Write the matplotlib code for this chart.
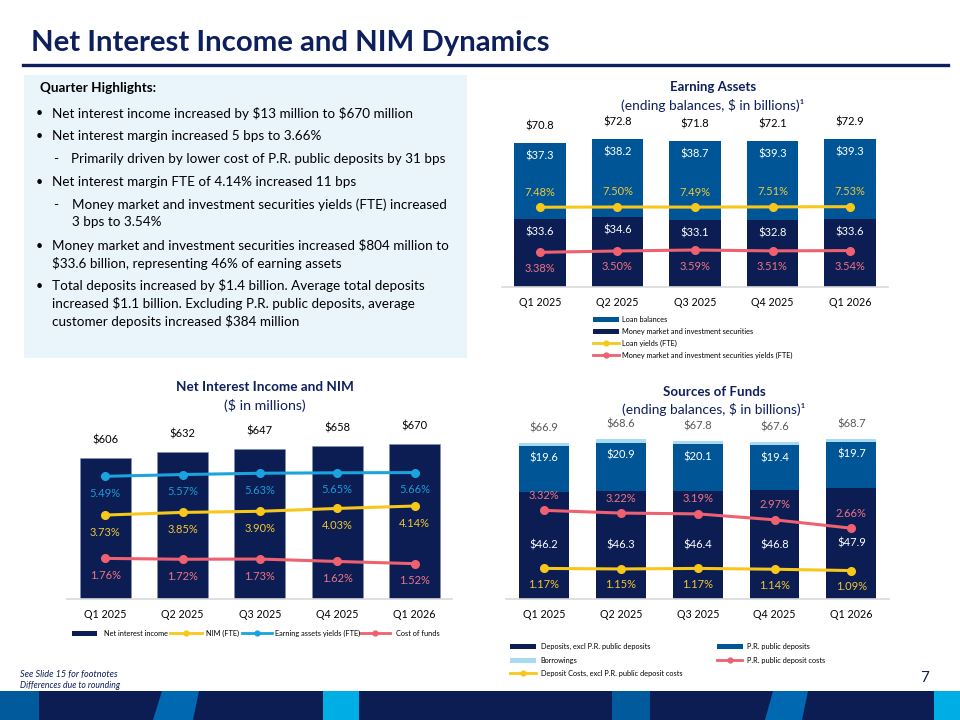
import matplotlib
matplotlib.use('Agg')
import matplotlib.pyplot as plt
from matplotlib.patches import Rectangle, Polygon
from matplotlib.lines import Line2D
import matplotlib.transforms as mtrans

plt.rcParams['font.family'] = ['Lato', 'DejaVu Sans']

# ---------------- data ----------------
quarters = ['Q1 2025', 'Q2 2025', 'Q3 2025', 'Q4 2025', 'Q1 2026']

# Earning assets ($B)
ea_loans = [37.3, 38.2, 38.7, 39.3, 39.3]
ea_mm = [33.6, 34.6, 33.1, 32.8, 33.6]
ea_total = [70.8, 72.8, 71.8, 72.1, 72.9]
loan_yield = [7.48, 7.50, 7.49, 7.51, 7.53]
mm_yield = [3.38, 3.50, 3.59, 3.51, 3.54]

# Net interest income ($M) and NIM
nii = [606, 632, 647, 658, 670]
nim_fte = [3.73, 3.85, 3.90, 4.03, 4.14]
ea_yield = [5.49, 5.57, 5.63, 5.65, 5.66]
cost_funds = [1.76, 1.72, 1.73, 1.62, 1.52]

# Sources of funds ($B)
dep_excl = [46.2, 46.3, 46.4, 46.8, 47.9]
pr_dep = [19.6, 20.9, 20.1, 19.4, 19.7]
borrow = [1.1, 1.4, 1.3, 1.4, 1.1]
sof_total = [66.9, 68.6, 67.8, 67.6, 68.7]
pr_cost = [3.32, 3.22, 3.19, 2.97, 2.66]
dep_cost = [1.17, 1.15, 1.17, 1.14, 1.09]

highlights = [
    ('b', 'Net interest income increased by $13 million to $670 million'),
    ('b', 'Net interest margin increased 5 bps to 3.66%'),
    ('d', 'Primarily driven by lower cost of P.R. public deposits by 31 bps'),
    ('b', 'Net interest margin FTE of 4.14% increased 11 bps'),
    ('d', 'Money market and investment securities yields (FTE) increased'),
    ('c', '3 bps to 3.54%'),
    ('b', 'Money market and investment securities increased $804 million to'),
    ('c', '$33.6 billion, representing 46% of earning assets'),
    ('b', 'Total deposits increased by $1.4 billion. Average total deposits'),
    ('c', 'increased $1.1 billion. Excluding P.R. public deposits, average'),
    ('c', 'customer deposits increased $384 million'),
]

# ---------------- style ----------------
W, H = 960, 720
NAVY = '#0b1d52'
TITLE = '#0d1f5c'
BLUE = '#005596'
LIGHT = '#a8daf2'
YELLOW = '#f7c71c'
YEL_TXT = '#f0c73a'
PINK = '#ef6170'
PINK_TXT = '#f07586'
CYAN = '#1aa3dd'
CYAN_TXT = '#1c9bd8'
GRID = '#d9d9d9'
LBL = 8.0      # data label size
TICK = 7.7     # category label size
LEG = 5.3      # legend text size

fig = plt.figure(figsize=(9.6, 7.2), dpi=100)


def esc(s):
    return s.replace('$', r'\$')


def fx(x):
    return x / W


def fy(y):
    return 1 - y / H


def ftext(x, y, s, **kw):
    return fig.text(fx(x), fy(y), esc(s), **kw)


fits = []


def fit(t, width):
    fits.append((t, width))
    return t


def add_ax(left, right, top, bottom):
    return fig.add_axes([fx(left), fy(bottom), (right - left) / W, (bottom - top) / H])


def style_ax(ax):
    for s in ['top', 'left', 'right']:
        ax.spines[s].set_visible(False)
    ax.spines['bottom'].set_color(GRID)
    ax.spines['bottom'].set_linewidth(1.2)
    ax.set_yticks([])
    ax.tick_params(axis='x', length=0, pad=7, labelsize=TICK, labelcolor='black')
    ax.patch.set_alpha(0)


def off(ax, dy):
    return mtrans.offset_copy(ax.transData, fig=fig, x=0, y=dy, units='dots')


# ---------------- title ----------------
fit(ftext(31, 43, 'Net Interest Income and NIM Dynamics', fontsize=20, fontweight='bold',
          color=TITLE, va='center', ha='left'), 520)
fig.add_artist(Line2D([fx(23), fx(948)], [fy(64.5), fy(64.5)], color=TITLE, lw=2.4))

# ---------------- highlights panel ----------------
fig.add_artist(Rectangle((fx(24), fy(358)), (467 - 24) / W, (358 - 75) / H,
                         transform=fig.transFigure, facecolor='#eaf5fb', edgecolor='none'))
fit(ftext(40, 88, 'Quarter Highlights:', fontsize=10, fontweight='bold', va='center'), 116)
line_y = [113, 136, 159, 182, 205, 222.5, 245.5, 263.5, 286, 303.5, 321]
para = []
for (kind, s), y in zip(highlights, line_y):
    if kind == 'b':
        ftext(36, y, '\u2022', fontsize=9, va='center')
        para.append(ftext(52, y, s, fontsize=10, va='center'))
    elif kind == 'd':
        ftext(53, y, '-', fontsize=10, va='center')
        para.append(ftext(71 if 'Primarily' in s else 72.5, y, s, fontsize=10, va='center'))
    else:
        para.append(ftext(72.5 if s.startswith('3 bps') else 52, y, s, fontsize=10, va='center'))
para_targets = [359, 267, 371, 299, 375, 87, 397, 288, 370, 362, 247]

# ---------------- Earning Assets ----------------
fit(ftext(713, 87, 'Earning Assets', fontsize=10, fontweight='bold', color=TITLE, ha='center', va='center'), 87)
fit(ftext(713, 105, '(ending balances, $ in billions)\u00b9', fontsize=10, color=TITLE, ha='center', va='center'), 183)

ax1 = add_ax(502, 888, 124.6, 287)
x = list(range(5))
ax1.bar(x, ea_mm, width=0.66, color=NAVY)
ax1.bar(x, ea_loans, width=0.66, bottom=ea_mm, color=BLUE)
ax1.set_xlim(-0.49, 4.49)
ax1.set_ylim(0, 80)
style_ax(ax1)
ax1.set_xticks(x)
ax1.set_xticklabels(quarters)
for i in x:
    ax1.text(i, ea_mm[i] + ea_loans[i], esc(f'${ea_total[i]}'), transform=off(ax1, 17),
             ha='center', va='center', fontsize=LBL, color='black')
    ax1.text(i, ea_mm[i] + ea_loans[i], esc(f'${ea_loans[i]}'), transform=off(ax1, -13),
             ha='center', va='center', fontsize=LBL, color='white')
    ax1.text(i, ea_mm[i], esc(f'${ea_mm[i]}'), transform=off(ax1, -13),
             ha='center', va='center', fontsize=LBL, color='white')
ax1b = ax1.twinx()
ax1b.set_ylim(0.227, 0.227 + 162.4 / 11)
ax1b.axis('off')
ax1b.plot(x, loan_yield, color=YELLOW, lw=2.2, marker='o', ms=5.5)
ax1b.plot(x, mm_yield, color=PINK, lw=2.2, marker='o', ms=5.5)
for i in x:
    ax1b.text(i, loan_yield[i], f'{loan_yield[i]:.2f}%', transform=off(ax1b, 15),
              ha='center', va='center', fontsize=LBL, color=YEL_TXT)
    ax1b.text(i, mm_yield[i], f'{mm_yield[i]:.2f}%', transform=off(ax1b, -16),
              ha='center', va='center', fontsize=LBL, color=PINK_TXT)

# legend (manual)
leg_y = [319.3, 331.3, 343.3, 355.3]
fig.add_artist(Rectangle((fx(592.5), fy(leg_y[0] + 2.5)), 26 / W, 5 / H, transform=fig.transFigure,
                         facecolor=BLUE, edgecolor='none'))
fig.add_artist(Rectangle((fx(592.5), fy(leg_y[1] + 2.5)), 26 / W, 5 / H, transform=fig.transFigure,
                         facecolor=NAVY, edgecolor='none'))
for yy, c in [(leg_y[2], YELLOW), (leg_y[3], PINK)]:
    fig.add_artist(Line2D([fx(592.5), fx(618.5)], [fy(yy), fy(yy)], color=c, lw=2))
    fig.add_artist(Line2D([fx(605.5)], [fy(yy)], color=c, marker='o', ms=3.5))
for yy, s in zip(leg_y, ['Loan balances', 'Money market and investment securities',
                         'Loan yields (FTE)', 'Money market and investment securities yields (FTE)']):
    ftext(622.5, yy, s, fontsize=LEG, va='center')

# ---------------- Net Interest Income and NIM ----------------
fit(ftext(265, 387, 'Net Interest Income and NIM', fontsize=10, fontweight='bold', color=TITLE,
          ha='center', va='center'), 177)
fit(ftext(265, 405, '($ in millions)', fontsize=10, color=TITLE, ha='center', va='center'), 81)

ax2 = add_ax(67, 452, 413.4, 599.3)
ax2.bar(x, nii, width=0.66, color=NAVY, edgecolor='#7f8fb5', linewidth=0.4)
ax2.set_xlim(-0.495, 4.485)
ax2.set_ylim(0, 800)
style_ax(ax2)
ax2.set_xticks(x)
ax2.set_xticklabels(quarters)
for i in x:
    ax2.text(i, nii[i], esc(f'${nii[i]}'), transform=off(ax2, 18),
             ha='center', va='center', fontsize=LBL, color='black')
ax2b = ax2.twinx()
ax2b.set_ylim(-0.1, -0.1 + 185.9 / 22)
ax2b.axis('off')
for vals, c, tc in [(ea_yield, CYAN, CYAN_TXT), (nim_fte, YELLOW, YEL_TXT), (cost_funds, PINK, PINK_TXT)]:
    ax2b.plot(x, vals, color=c, lw=2.2, marker='o', ms=5.5)
    for i in x:
        ax2b.text(i, vals[i], f'{vals[i]:.2f}%', transform=off(ax2b, -17),
                  ha='center', va='center', fontsize=LBL, color=tc)

ly = 633.3
fig.add_artist(Rectangle((fx(72), fy(ly + 2.5)), 25 / W, 5 / H, transform=fig.transFigure,
                         facecolor=NAVY, edgecolor='none'))
ftext(104, ly, 'Net interest income', fontsize=LEG, va='center')
for (x0, x1, tx, c, s) in [(170, 202, 206, YELLOW, 'NIM (FTE)'),
                           (242, 272, 275, CYAN, 'Earning assets yields (FTE)'),
                           (360, 390, 396, PINK, 'Cost of funds')]:
    fig.add_artist(Line2D([fx(x0), fx(x1)], [fy(ly), fy(ly)], color=c, lw=2))
    fig.add_artist(Line2D([fx((x0 + x1) / 2)], [fy(ly)], color=c, marker='o', ms=3.5))
    ftext(tx, ly, s, fontsize=LEG, va='center')

# ---------------- Sources of Funds ----------------
fit(ftext(714, 392, 'Sources of Funds', fontsize=10, fontweight='bold', color=TITLE,
          ha='center', va='center'), 103)
fit(ftext(714, 410, '(ending balances, $ in billions)\u00b9', fontsize=10, color=TITLE,
          ha='center', va='center'), 183)

ax3 = add_ax(506, 889, 412.9, 599.3)
bot2 = [a + b for a, b in zip(dep_excl, pr_dep)]
ax3.bar(x, dep_excl, width=0.65, color=NAVY)
ax3.bar(x, pr_dep, width=0.65, bottom=dep_excl, color=BLUE)
ax3.bar(x, borrow, width=0.65, bottom=bot2, color=LIGHT)
ax3.set_xlim(-0.495, 4.49)
ax3.set_ylim(0, 80)
style_ax(ax3)
ax3.set_xticks(x)
ax3.set_xticklabels(quarters)
for i in x:
    ax3.text(i, bot2[i] + borrow[i], esc(f'${sof_total[i]}'), transform=off(ax3, 15),
             ha='center', va='center', fontsize=LBL, color='#595959')
    ax3.text(i, bot2[i], esc(f'${pr_dep[i]}'), transform=off(ax3, -12.5),
             ha='center', va='center', fontsize=LBL, color='white')
    ax3.text(i, dep_excl[i] / 2, esc(f'${dep_excl[i]}'),
             ha='center', va='center', fontsize=LBL, color='white')
ax3b = ax3.twinx()
ax3b.set_ylim(0.026, 0.026 + 186.4 / 27)
ax3b.axis('off')
ax3b.plot(x, pr_cost, color=PINK, lw=2.2, marker='o', ms=5.5)
ax3b.plot(x, dep_cost, color=YELLOW, lw=2.2, marker='o', ms=5.5)
for i in x:
    ax3b.text(i, pr_cost[i], f'{pr_cost[i]:.2f}%', transform=off(ax3b, 15),
              ha='center', va='center', fontsize=LBL, color=PINK_TXT)
    ax3b.text(i, dep_cost[i], f'{dep_cost[i]:.2f}%', transform=off(ax3b, -16),
              ha='center', va='center', fontsize=LBL, color=YEL_TXT)

rows = [646.7, 660, 673.3]
fig.add_artist(Rectangle((fx(510), fy(rows[0] + 2.5)), 26 / W, 5 / H, transform=fig.transFigure,
                         facecolor=NAVY, edgecolor='none'))
fig.add_artist(Rectangle((fx(510), fy(rows[1] + 2.5)), 26 / W, 5 / H, transform=fig.transFigure,
                         facecolor=LIGHT, edgecolor='none'))
fig.add_artist(Line2D([fx(510), fx(536)], [fy(rows[2]), fy(rows[2])], color=YELLOW, lw=2))
fig.add_artist(Line2D([fx(523)], [fy(rows[2])], color=YELLOW, marker='o', ms=3.5))
fig.add_artist(Rectangle((fx(716.7), fy(rows[0] + 2.5)), 26 / W, 5 / H, transform=fig.transFigure,
                         facecolor=BLUE, edgecolor='none'))
fig.add_artist(Line2D([fx(716.7), fx(742.3)], [fy(rows[1]), fy(rows[1])], color=PINK, lw=2))
fig.add_artist(Line2D([fx(729.5)], [fy(rows[1])], color=PINK, marker='o', ms=3.5))
ftext(540.7, rows[0], 'Deposits, excl P.R. public deposits', fontsize=LEG, va='center')
ftext(540.7, rows[1], 'Borrowings', fontsize=LEG, va='center')
ftext(540.7, rows[2], 'Deposit Costs, excl P.R. public deposit costs', fontsize=LEG, va='center')
ftext(746.7, rows[0], 'P.R. public deposits', fontsize=LEG, va='center')
ftext(746.7, rows[1], 'P.R. public deposit costs', fontsize=LEG, va='center')

# ---------------- footer ----------------
fit(ftext(20, 674.5, 'See Slide 15 for footnotes', fontsize=6.5, style='italic', color=TITLE, va='center'), 97)
fit(ftext(20, 686, 'Differences due to rounding', fontsize=6.5, style='italic', color=TITLE, va='center'), 100)
ftext(925, 678, '7', fontsize=11, color=TITLE, ha='center', va='center')

def fpoly(pts, color):
    fig.add_artist(Polygon([(fx(a), fy(b)) for a, b in pts], closed=True, transform=fig.transFigure,
                           facecolor=color, edgecolor='none'))

fpoly([(0, 691), (960, 691), (960, 720), (0, 720)], NAVY)
fpoly([(0, 691), (39, 691), (39, 720), (0, 720)], '#005a9c')
fpoly([(162, 691), (199, 691), (193, 720), (153, 720)], '#0067b1')
fpoly([(323, 691), (359, 691), (359, 720), (323, 720)], '#00aee6')
fpoly([(612, 691), (650, 691), (650, 720), (612, 720)], '#005a9c')
fpoly([(773, 691), (808, 691), (802, 720), (765, 720)], '#0067b1')
fpoly([(934, 691), (960, 691), (960, 720), (934, 720)], '#00aee6')

# ---------------- fit text sizes to reference widths ----------------
fig.canvas.draw()
r = fig.canvas.get_renderer()
for t, wpx in fits:
    w = t.get_window_extent(renderer=r).width
    t.set_fontsize(t.get_fontsize() * wpx / w)
tot_w = sum(t.get_window_extent(renderer=r).width for t in para)
scale = sum(para_targets) / tot_w
for t in para:
    t.set_fontsize(t.get_fontsize() * scale)

fig.savefig('out.png', dpi=100)
